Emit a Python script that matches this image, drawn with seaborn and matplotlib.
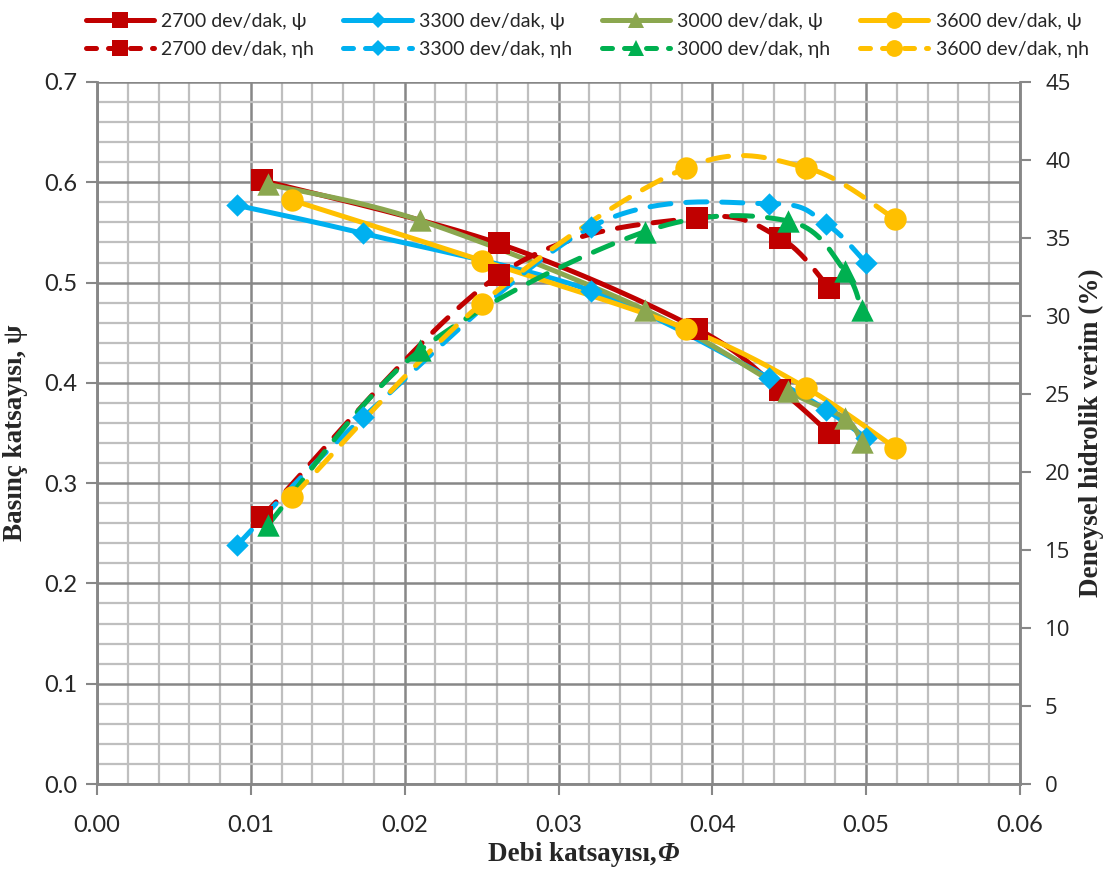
import numpy as np
import pandas as pd
import matplotlib
matplotlib.use("Agg")
import matplotlib.pyplot as plt
from matplotlib.lines import Line2D
from matplotlib.ticker import MultipleLocator
import seaborn as sns

# ---- measured data: flow coefficient, pressure coefficient, hydraulic efficiency ----
labels = ["2700 dev/dak", "3300 dev/dak", "3000 dev/dak", "3600 dev/dak"]

phi_2700 = [0.0107, 0.0261, 0.0390, 0.0444, 0.0476]
psi_2700 = [0.602, 0.539, 0.454, 0.393, 0.350]
eta_2700 = [17.1, 32.6, 36.3, 35.0, 31.8]

phi_3300 = [0.0091, 0.0173, 0.0321, 0.0437, 0.0474, 0.0500]
psi_3300 = [0.577, 0.549, 0.492, 0.405, 0.373, 0.345]
eta_3300 = [15.3, 23.5, 35.7, 37.2, 35.9, 33.4]

phi_3000 = [0.0111, 0.0210, 0.0356, 0.0449, 0.0486, 0.0497]
psi_3000 = [0.598, 0.562, 0.473, 0.392, 0.365, 0.341]
eta_3000 = [16.6, 27.8, 35.4, 36.1, 32.9, 30.4]

phi_3600 = [0.0127, 0.0250, 0.0383, 0.0461, 0.0519]
psi_3600 = [0.582, 0.522, 0.454, 0.395, 0.335]
eta_3600 = [18.4, 30.8, 39.5, 39.5, 36.2]

series = [
    dict(name=labels[0], phi=phi_2700, psi=psi_2700, eta=eta_2700,
         c_psi="#C00000", c_eta="#C00000", marker="s", ms=250),
    dict(name=labels[1], phi=phi_3300, psi=psi_3300, eta=eta_3300,
         c_psi="#00B0F0", c_eta="#00B0F0", marker="D", ms=130),
    dict(name=labels[2], phi=phi_3000, psi=psi_3000, eta=eta_3000,
         c_psi="#8BA74F", c_eta="#00B050", marker="^", ms=260),
    dict(name=labels[3], phi=phi_3600, psi=psi_3600, eta=eta_3600,
         c_psi="#FFC000", c_eta="#FFC000", marker="o", ms=260),
]

X_MAX, PSI_MAX, ETA_MAX = 0.06, 0.7, 45.0
AX_W, AX_H = 923.0, 702.0  # axes size in pixels, used for screen-space smoothing


def smooth(x, y, ymax, n=40):
    """Catmull-Rom style Bezier smoothing (like spreadsheet 'smoothed lines')."""
    px = np.asarray(x) / X_MAX * AX_W
    py = np.asarray(y) / ymax * AX_H
    P = np.column_stack([px, py])
    P = np.vstack([P[0], P, P[-1]])
    out = []
    t = np.linspace(0, 1, n)[:, None]
    for i in range(1, len(P) - 2):
        p0, p1, p2, p3 = P[i - 1], P[i], P[i + 1], P[i + 2]
        c1 = p1 + (p2 - p0) / 6.0
        c2 = p2 - (p3 - p1) / 6.0
        seg = ((1 - t) ** 3) * p1 + 3 * ((1 - t) ** 2) * t * c1 + 3 * (1 - t) * t ** 2 * c2 + t ** 3 * p2
        out.append(seg if i == 1 else seg[1:])
    out = np.vstack(out)
    return out[:, 0] / AX_W * X_MAX, out[:, 1] / AX_H * ymax


sns.set_theme(style="white")
plt.rcParams["font.family"] = ["Lato", "DejaVu Sans"]

fig = plt.figure(figsize=(11.14, 8.72), dpi=100)
ax = fig.add_axes([97 / 1114, 1 - 784 / 872, 923 / 1114, 702 / 872])
ax2 = ax.twinx()

ax.set_xlim(0, X_MAX)
ax.set_ylim(0, PSI_MAX)
ax2.set_ylim(0, ETA_MAX)

# grid
ax.xaxis.set_major_locator(MultipleLocator(0.01))
ax.xaxis.set_minor_locator(MultipleLocator(0.002))
ax.yaxis.set_major_locator(MultipleLocator(0.1))
ax.yaxis.set_minor_locator(MultipleLocator(0.02))
ax2.yaxis.set_major_locator(MultipleLocator(5))
ax.grid(which="minor", color="#BFBFBF", linewidth=1.6, zorder=0)
ax.grid(which="major", color="#878787", linewidth=1.8, zorder=0)
ax.set_axisbelow(True)

LW = 3.6
DASH = (4.2, 3.0)

for s in series:
    xs, ys = smooth(s["phi"], s["psi"], PSI_MAX)
    sns.lineplot(x=xs, y=ys, sort=False, ax=ax, color=s["c_psi"], linewidth=LW,
                 solid_capstyle="round", zorder=3)
    sns.scatterplot(x=s["phi"], y=s["psi"], ax=ax, color=s["c_psi"], marker=s["marker"],
                    s=s["ms"], linewidth=0, zorder=4)

for s in series:
    xs, ys = smooth(s["phi"], s["eta"], ETA_MAX)
    ln = sns.lineplot(x=xs, y=ys, sort=False, ax=ax2, color=s["c_eta"], linewidth=LW, zorder=3)
    ln.lines[-1].set_dashes(DASH)
    ln.lines[-1].set_dash_capstyle("round")
    sns.scatterplot(x=s["phi"], y=s["eta"], ax=ax2, color=s["c_eta"], marker=s["marker"],
                    s=s["ms"], linewidth=0, zorder=4)

ax.set_xlim(0, X_MAX)
ax.set_ylim(0, PSI_MAX)
ax2.set_ylim(0, ETA_MAX)

# tick formatting
ax.set_xticks(np.arange(0, 0.0601, 0.01))
ax.set_xticklabels([f"{v:.2f}" for v in np.arange(0, 0.0601, 0.01)])
ax.set_yticks(np.arange(0, 0.701, 0.1))
ax.set_yticklabels([f"{v:.1f}" for v in np.arange(0, 0.701, 0.1)])
ax2.set_yticks(np.arange(0, 45.1, 5))
ax2.set_yticklabels([f"{v:d}" for v in range(0, 46, 5)])

ax.tick_params(axis="both", which="major", direction="out", length=8, width=1.5,
               color="#878787", labelsize=17, pad=6, bottom=True, left=True)
ax.tick_params(axis="both", which="minor", length=0)
ax2.tick_params(axis="y", which="major", direction="out", length=8, width=1.5,
                color="#878787", labelsize=16, pad=10, right=True)
for lab in ax2.get_yticklabels():
    lab.set_fontfamily("Open Sans")
ax.tick_params(axis="x", pad=14)

for a in (ax, ax2):
    for side in ("left", "bottom", "right"):
        a.spines[side].set_color("#878787")
        a.spines[side].set_linewidth(1.8)
    a.spines["top"].set_visible(False)

LABEL_FONT = dict(fontfamily="Liberation Serif", fontweight="bold", fontsize=19.5)

ax.set_xlabel("Debi katsayısı,", **LABEL_FONT)
ax.xaxis.set_label_coords(0.515, -0.083)
ax.annotate("Φ", xy=(1, 0), xycoords=ax.xaxis.label, ha="left", va="bottom",
            fontstyle="italic", **LABEL_FONT)
ax.set_ylabel("Basınç katsayısı, ψ", labelpad=12, **LABEL_FONT)
ax2.set_ylabel("Deneysel hidrolik verim (%)", labelpad=6, **LABEL_FONT)

# legend: psi entries on top row, eta entries below
handles, texts = [], []
for s in series:
    msz = np.sqrt(s["ms"]) * 0.75
    handles.append(Line2D([], [], color=s["c_psi"], lw=LW, marker=s["marker"],
                          markersize=msz, markeredgewidth=0))
    texts.append(f"{s['name']}, ψ")
    h = Line2D([], [], color=s["c_eta"], lw=LW, marker=s["marker"],
               markersize=msz, markeredgewidth=0, dash_capstyle="round")
    h.set_dashes((2.0, 2.4))
    handles.append(h)
    texts.append(f"{s['name']}, ηh")

fig.legend(handles, texts, ncol=4, loc="upper center", bbox_to_anchor=(0.527, 1.005),
           frameon=False, fontsize=14, handlelength=3.5, columnspacing=1.5,
           handletextpad=0.4, labelspacing=0.55)

fig.savefig("out.png", dpi=100)
